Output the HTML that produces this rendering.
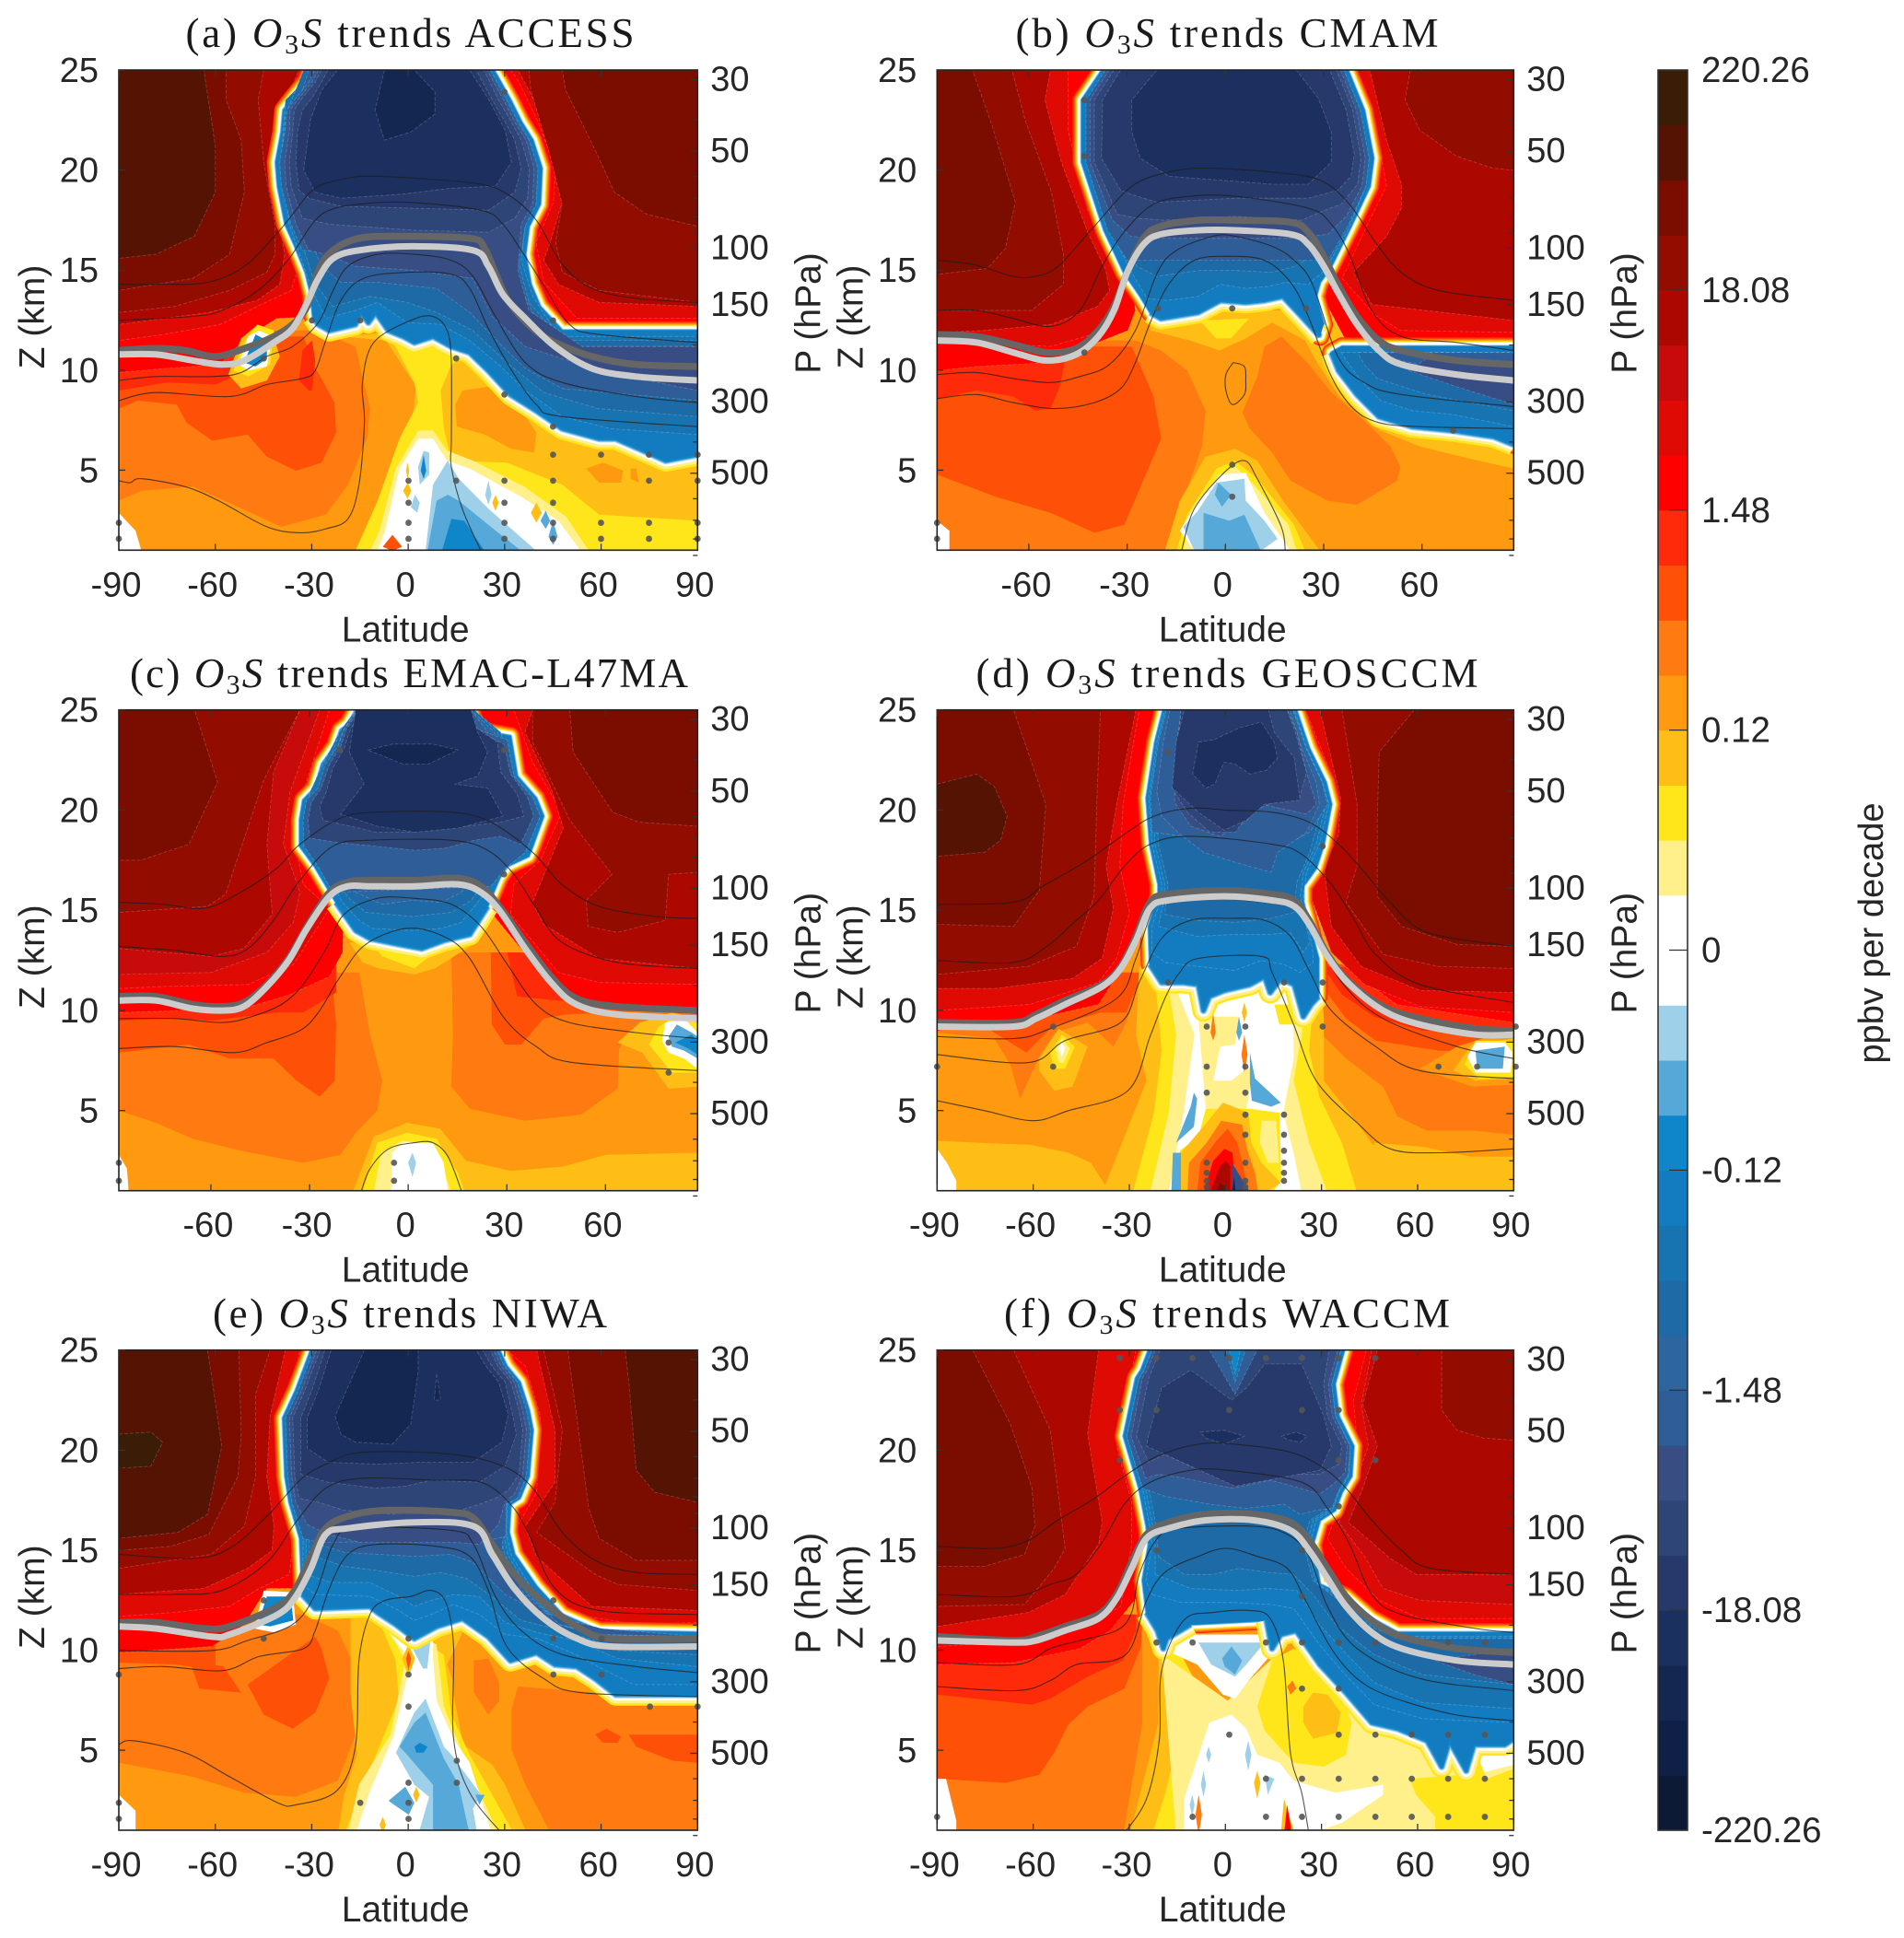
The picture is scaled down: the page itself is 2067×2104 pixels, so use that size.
<!DOCTYPE html>
<html lang="en"><head><meta charset="utf-8"><title>O3S trends</title>
<style>html,body{margin:0;padding:0;background:#fff}svg{display:block}
text{font-family:"Liberation Sans",sans-serif;fill:#262626}
.ttl{font-family:"Liberation Serif",serif;font-size:45px;text-anchor:middle;fill:#1a1a1a}</style></head>
<body>
<svg id="fig" xmlns="http://www.w3.org/2000/svg" width="2067" height="2104" viewBox="0 0 2067 2104">
<rect width="2067" height="2104" fill="#fff"/>
<text class="ttl" x="445" y="51" textLength="487">(a) <tspan font-style="italic">O</tspan><tspan font-size="30" dy="7">3</tspan><tspan font-style="italic" dy="-7">S</tspan> trends ACCESS</text>
<text class="ttl" x="1332" y="51" textLength="459">(b) <tspan font-style="italic">O</tspan><tspan font-size="30" dy="7">3</tspan><tspan font-style="italic" dy="-7">S</tspan> trends CMAM</text>
<text class="ttl" x="444" y="746" textLength="606">(c) <tspan font-style="italic">O</tspan><tspan font-size="30" dy="7">3</tspan><tspan font-style="italic" dy="-7">S</tspan> trends EMAC-L47MA</text>
<text class="ttl" x="1332" y="746" textLength="545">(d) <tspan font-style="italic">O</tspan><tspan font-size="30" dy="7">3</tspan><tspan font-style="italic" dy="-7">S</tspan> trends GEOSCCM</text>
<text class="ttl" x="445" y="1441" textLength="428">(e) <tspan font-style="italic">O</tspan><tspan font-size="30" dy="7">3</tspan><tspan font-style="italic" dy="-7">S</tspan> trends NIWA</text>
<text class="ttl" x="1332" y="1441" textLength="484">(f) <tspan font-style="italic">O</tspan><tspan font-size="30" dy="7">3</tspan><tspan font-style="italic" dy="-7">S</tspan> trends WACCM</text>
<text x="0" y="0" transform="translate(2044,1013) rotate(-90)" font-size="38" text-anchor="middle">ppbv per decade</text>
</svg>
<script>
/* ---------- colour scale ---------- */
const bandColors=["#0c1a36","#101f45","#142751","#1c305f","#26396a","#2e4577","#374d84","#2f5d97","#2c659f","#1d6aa6","#1874b0","#137cc0","#0f86c9","#55a8d8","#9fd0ea","#ffffff","#ffffff","#fff08c","#ffe61a","#ffbe16","#ff9a10","#ff7a10","#ff5008","#ff2a0a","#ff0000","#e00a05","#c70a0a","#ad0800","#930c00","#7a0c00","#551304","#3b1c07"];
const colorbarLabels=["220.26","18.08","1.48","0.12","0","-0.12","-1.48","-18.08","-220.26"];
const latTicksFull=[-90,-60,-30,0,30,60,90];
const latTicksTrim=[-60,-30,0,30,60];
const zTicks=[5,10,15,20,25];
const pLabels=[30,50,100,150,300,500];
const pMinor=[40,60,70,80,90,200,400,600,700,800,900];

/* ---------- panel (a) ACCESS : layers are [band,[lat,z,...]] ---------- */
const a_under=[
[21,[-90,3.5,-83,4,-67,4.2,-53,3.2,-39.5,2.2,-25.7,2.8,-18.8,4.3,-13,6.6,-12,8.1,-16.5,11.2,-28,12,-90,12]],
[22,[-90,8.1,-84,8.5,-72,8.3,-69,7.4,-61,6.5,-50,6.8,-44,5.7,-35,5,-27,5.4,-22.5,6.9,-23,8.4,-29.5,10.3,-32.6,11.7,-90,11.7]],
[23,[-90,9,-75,9.4,-60,9.3,-50,10,-40,11.5,-90,11.5]],
[23,[-33,11,-34,9.5,-31,9,-30,9,-29,10.5,-30,11.5]],
[19,[-21,11.7,-7,11.5,2.4,9.2,.7,7,-9.6,3.5,-15.4,1,90,1,90,6.2,25,11,2,12]],
[18,[-6,11.8,1.8,9.4,3,8.4,-2.8,6.6,-9.6,3.5,-16.5,1,90,1,90,2.5,59.2,2.8,47.8,4.3,30.5,5.4,13.3,5.5,11,7.1,10,9,13.3,10.3,19,10.8,1.8,11.5]],
[20,[16.8,9,24.8,9.2,34,8.3,39.7,6.9,39,5.9,31.7,6.1,23.7,6.8,15,7.2,14.5,8.3]],
[20,[55.2,5.1,60.4,5.4,66.7,5,66,4.4,59.2,4.4]],
[20,[69,5.1,70.7,5.1,71.6,4.4,69,4.6]],
[17,[3,7,-4,5.1,-9,2,-12,1,56,1,49,2.7,36,4.2,20,5.5,12,6,7.6,7]],
[15,[3,6.6,-2.8,5.1,-7.3,2,-9.6,1,53.5,1,46.6,2.5,35,3.7,19,5.1,12,5.5,7.6,6.6]],
[14,[12.2,5.5,7.6,4.3,5.3,1,39.7,1,24.8,3.1,15.6,4.6]],
[13,[12.2,3.8,8.7,3.5,5.9,1,35,1,24.8,2.3,15.6,3.5]],
[12,[13.3,2.6,10.4,1,23.6,1,17.3,2.5]],
[14,[4.7,6,3,5.2,3.5,4.3,6.4,4.8,6.4,5.9]],
[12,[4.7,5.8,3.8,5,4.7,4.6,5.5,5]],
[14,[2,3.8,.7,3.2,2.7,2.9,3.5,3.4]],
[19,[-1.7,4,-.3,4.4,.9,4,-.3,3.6]],
[19,[-.8,5,-.3,5.4,.2,5,-.3,4.6]],
[22,[-8,1.2,-5,1.8,-2,1.2,-5,1]],
[19,[38,2.9,39.7,3.4,41.4,2.9,39.7,2.4]],
[14,[23.8,3.8,24.8,4.5,25.8,3.8,24.8,3.3]],
[13,[41,2.5,42.6,3,44,2.5,42.6,2.1]],
[13,[43.5,1.7,44.9,2.5,46.3,1.7,44.9,1.3]],
[19,[26,3.4,27,3.8,28,3.4,27,3]],
[15,[-90,2.9,-84.8,2,-83,1,-90,1]]];
const a_stack=[
[24,[-90,25,-29,25,-29,12.7,-41,12.6,-51.5,11.5,-58.5,10.3,-76,10.1,-90,9.9]],
[25,[-90,25,-32,25,-36.5,17.3,-34,15.2,-36.5,14,-47,13.2,-58.5,12.3,-76,11.8,-90,11.5]],
[27,[-90,25,-34,25,-41,22.4,-42.7,20.4,-41,18.1,-38.5,15.8,-40,14.3,-47,13.5,-62,12.9,-76,12.6,-90,12.3]],
[28,[-90,25,-45,25,-46.7,23.5,-45,20.4,-41.5,17.3,-41.5,15.8,-44,14.9,-55.6,14,-72.7,13.2,-90,12.9]],
[29,[-90,25,-56.7,25,-56.7,23.5,-52,21.5,-51,18.9,-55.6,15.8,-67,14.6,-90,14]],
[30,[-90,25,-63.6,25,-60,21.2,-60,18.9,-66.5,16.7,-78.5,15.8,-90,15.6]],
[24,[24.8,25,90,25,90,12.1,46.6,12.1,24.8,17.3]],
[25,[31.7,25,90,25,90,12.6,52.4,12.6,42,14.4,39.6,16.4,45,18.4,45.7,20.1,40,22.5,34,24.5]],
[27,[34,25,90,25,90,13.2,59.2,13.4,46.6,14.3,42,15.5,44,16.4,47.7,18.4,47.8,20.1,40,23.2]],
[28,[37.4,25,90,25,90,13.4,59.2,14,47.8,14.9,45.7,16.4,47.7,18.3,44,20.7,38,24]],
[29,[47.8,25,90,25,90,17.2,74,17.8,64,18.9,58,21,48.8,24]]];
const a_cores=[[-30.3,25,-32,24.4,-36,23.6,-38.9,23,-39.5,21.9,-41.2,20.4,-40.6,19.2,-38.3,17.3,-35.5,16.3,-32,14.9,-30.3,13.8,-29.7,12.7,-28,12.3,-24.6,12,-16.5,12.3,-14.8,12.9,-12.5,12.4,-10.2,12.9,-6.2,12,-1.6,11.7,1.8,11.4,7.6,11.7,13.3,11.2,19,10.9,24.8,10,31.7,8.8,39.7,8,47.8,7.1,59.2,6.6,64.4,6.6,73,6,79.9,5.5,90,5.8,90,12,47.8,12,40.9,13.2,38,14.3,36.3,15.8,37.4,17.2,40.9,18.3,41.4,20.1,38.6,21.5,35.1,22.4,31.7,23.5,26.5,25]];
const a_fronts=[[-29.7,12.7,-28,12.3,-24.6,12,-16.5,12.3,-14.8,12.9,-12.5,12.4,-10.2,12.9,-6.2,12,-1.6,11.7,1.8,11.4,7.6,11.7,13.3,11.2,19,10.9,24.8,10,31.7,8.8,39.7,8,47.8,7.1,59.2,6.6,64.4,6.6,73,6,79.9,5.5,90,5.8]];
const a_nested=[
[10,[-38.3,23.5,-39.5,20.4,-37,17.3,-30,14,-25.7,12.6,-16.5,13,-9.6,13.4,-.5,12.4,10,12.3,19,11.5,28,10.3,36.3,9,47.8,7.7,62.7,7.1,90,6.8,90,11.7,46.6,11.7,38.6,13.7,35,15.5,36.3,17.3,39.7,18.6,39.7,20.2,35,21.9,28,24.1,24.8,25,-29,25]],
[9,[-32.6,25,-38.3,22.7,-39,20.4,-35,17.3,-29,14.3,-23.5,13.2,-12,13.7,-.5,13.4,8.7,12.9,20,12,30.5,10.4,42,8.9,59,8.1,90,7.7,90,11.5,47.8,11.5,37.4,13.4,34,15.5,35,17.3,38.5,18.6,37.4,20.4,30.5,23,24.8,25]],
[7,[-31,25,-36,22.4,-37,20.4,-32.6,17.3,-27,15.2,-21,14.4,-9.6,14.4,8.7,14.1,19,12.9,28,11.4,36.3,10.1,47.8,9.1,90,8.5,90,11.2,51,11.2,38.6,12.9,32,15,33,17.3,37.4,18.7,35,20.6,28,23.2,24,25]],
[7,[-29.2,25,-31,24.4,-35,23.6,-37.8,23,-38.4,21.9,-40,20.4,-39.5,19.2,-36.5,17.3,-33,16,30,15.6,35,15.8,36.2,17.2,39.6,18.3,40.2,20.1,37.5,21.5,34,22.4,30.5,23.5,25.4,25]],
[6,[-28,25,-30,24.4,-34,23.6,-36.8,23,-37,21.9,-38.5,20.4,-38,19.2,-35,17.3,-31,16,-25.7,15.8,-16.5,15.2,1.8,15,20,14.6,26,12.7,36.3,11.2,59,10,90,9,90,11.2,54,11.2,37.4,13,34,15,35,17.3,38.5,18.3,39,20.1,36.5,21.5,33,22.4,29.5,23.5,24.4,25]],
[5,[-27,25,-29,24.4,-33,23.6,-35.5,23,-36,21.9,-37,20.4,-36.5,19.2,-33,17.6,-24.5,17.3,1.8,17,24.8,16.9,33,17.6,37,18.6,37.5,20.1,35,21.5,32,22.4,28,23.5,23.4,25]],
[4,[-25,25,-27,24.4,-30,23.6,-33,23,-34.5,21.9,-35,20.4,-34,19,-31,18.6,-21,18.2,1.8,18.1,24.8,18,33,18.9,35,20.1,33,21.5,30,22.4,26,23.5,21,25]],
[3,[-22,25,-27,24,-30.5,22.5,-32.6,20,-29,18.9,-21,18.6,-2,18.8,13.3,19.1,27,19.2,32,20.4,30,22,25,23.5,19,25]],
[2,[-7.5,25,-10.4,23,-7.5,21.5,.7,21.9,8.2,22.8,8.2,23.9,1.8,25]]];
const a_over=[
[19,[-56,9.8,-52,9.1,-44,9.5,-40,10.7,-42.5,12,-47.5,12.2,-52,11.6]],
[18,[-54.4,10,-49.8,9.7,-43,10.3,-41.8,12,-47,12.3,-51,11.4]],
[15,[-52.7,10.3,-49.8,10,-44,10.2,-42.4,11.7,-46.4,12,-49.8,11.7]],
[12,[-51,10.4,-47.5,10.2,-44,10.6,-44,11.5,-47.5,11.8,-49.3,11.1]]];
const a_lines=[
[-90,14.3,-78.5,14.3,-62.5,14.4,-51,15.2,-40.6,16.9,-36,17.8,-29,19.1,-19,19.6,-12,19.7,1.8,19.6,22.5,19.3,31.7,18.7,39.7,17.5,47.8,15.3,57,14.1,70.7,13.6,90,13.4],
[-90,12.5,-67,12.7,-58,13,-46.7,14,-37.5,15.5,-30,17.3,-24.6,18,-15.4,18.3,-.5,18.4,22.5,18,29.3,17.3,35,16,41.8,14.3,50,12.3,59.2,11.8,90,11.4],
[-90,9.5,-78.5,9.7,-61,9.7,-52,9.9,-44,10.7,-36,11.2,-28,12.4,-23.4,14,-18.8,15.2,-9.6,15.8,1.8,15.8,13.3,15.5,20,14.7,27,12.7,36.3,10.4,47.8,9.4,70.7,8.7,90,8.4],
[-90,8.5,-78.5,8.9,-55.6,8.7,-44,9.3,-33,9.6,-29,10,-25.7,11.5,-21,13.5,-14,14.6,-.5,14.9,13.3,14.8,19,14.1,24.8,12.1,31.7,10.1,39.7,8.3,47.8,7.7,90,7.2],
[-90,4.5,-86.5,4.4,-83,4.6,-69.4,4.2,-59,3.5,-44,2.2,-33.7,1.9,-25.7,2.1,-18.8,2.6,-15.4,4.3,-13.7,7.4,-14.3,9.4,-10.8,11.4,.7,12.5,7.5,12.7,12,12,13.3,10.4,13.3,6.6,13.3,5.2,16.7,3.1,22.5,1]];
const a_thick=[-90,11,-78.5,11.1,-69.4,11,-60,10.7,-51,11.1,-41.8,11.7,-36,12.3,-31.5,13.2,-28,15,-23.4,16,-15.4,16.6,-2.8,16.7,19,16.6,23.6,16.1,28.2,14.4,31.7,13.3,38.6,12.1,45.5,11.4,57,10.7,70.7,10.3,90,10.2];
const a_light=[-90,10.8,-78.5,10.8,-67,10.5,-58,10.3,-51,10.5,-41.8,11.4,-36,12.1,-31.5,13.4,-28,14.6,-23.4,15.6,-15.4,16,1,16.2,20,16,24.8,15.2,29.3,13.8,36.3,12.6,45.5,11.2,57,10.1,70.7,9.7,90,9.5];
const a_dots=[0,4.5,0,3.4,0,2.4,0,1.6,14.8,4.5,14.8,10.6,29.8,8.8,44.9,7.2,29.8,4.5,29.8,3.4,29.8,2.4,29.8,1.6,44.9,5.8,59.8,5.8,74.7,5.8,44.9,4.5,74.7,4.5,44.9,3.4,44.9,2.4,44.9,1.6,59.8,2.4,59.8,1.6,74.7,2.4,74.7,1.6,90,5.8,90,4.5,90,2.4,90,1.6,-90,2.4,-90,1.6,-30,12.5,-15,12.5,-45,10.6,44.9,12.5,29.8,23.9];

/* ---------- panel (b) CMAM ---------- */
const b_under=[
[21,[-88,1,-17.3,1,-14,3.5,-8.3,6.2,-7.2,8,-12.8,10,-20.7,11,-28.5,11.5,-88,11.5]],
[21,[4,7.9,8.5,9.7,10.7,11.2,15.8,11.7,24.2,10.3,31,8.9,41,7.5,49,6.2,52,5.2,51,4.5,38.8,3.3,29.8,3.5,18.6,4.5,13,5.9,6.2,7.1]],
[22,[-88,4.8,-71,3.7,-54.3,2.9,-41,1.9,-31.9,2.3,-20.7,6.6,-23,8.7,-29.6,11.2,-88,11.2]],
[23,[-88,8.6,-76.8,9,-65.6,8.7,-59,8,-54.3,8.1,-51.5,9.2,-50,10.4,-88,10.4]],
[19,[-24,12,-12,11.5,-3,11,5,11.6,13,12.4,23,11.5,27,10.3,34,8.6,46,7,58,6.2,73,5.6,88,5.1,88,8,30,13,-24,13]],
[18,[-9,12.5,-4,11.6,.5,11.6,6,12.6]],
[19,[-19.6,1,-15,3.5,-7.2,5.7,1.8,6.1,8.5,5.5,16.3,3.5,27.6,1]],
[18,[-16,1,-12.8,2.8,-3.9,5.1,1.8,5.5,8.5,4.6,19.7,2.3,23,1]],
[17,[-14,1,-11,2.8,-3,4.8,1.8,5.2,7.5,4.3,18,2.3,20.5,1]],
[15,[-15,2,-9.5,3.5,-2.7,4.8,5,4.9,10.7,2.9,18.6,1,-10.6,1]],
[14,[-14,2.2,-9.5,3,-3.9,4.4,4.6,4.6,5,3.5,10.7,2.5,14.7,1.6,9.6,1,-10.6,1]],
[13,[-7.8,2.9,0,2.5,4.6,2.8,9.6,1,-7.8,1]],
[13,[-3.3,4.4,-4.4,3.8,-2.2,3.2,.6,3.8]],
[15,[-88,2.5,-85,2,-85,1,-88,1]]];
const b_stack=[
[24,[-88,25,-38.6,25,-28.5,13,-30.8,12,-43,11.2,-54.3,10.4,-76.8,10.2,-88,10]],
[25,[-88,25,-49,25,-49,22,-43,18,-34,15.2,-31,14.3,-37.5,12,-54.3,11.2,-88,11.5]],
[27,[-88,25,-54.3,25,-56,23.5,-51,20.4,-43,16.9,-37.5,15,-36.4,14,-40,13.2,-54,12.3,-74.5,12,-88,11.9]],
[28,[-88,25,-66,25,-62,22.5,-54,18.9,-50.4,15.8,-50.4,14.3,-60,13,-88,13]],
[29,[-88,25,-78,25,-72,22.2,-65,18.4,-68,16.1,-73.4,15.1,-88,14.8]],
[24,[35.4,25,88,25,88,11.5,35.4,11.5,26.4,14.3]],
[25,[38.8,25,88,25,88,11.9,52,12,44,12.8,34.3,14.6,42,17.3,47.8,19.2,45.5,21.3,41,23.5]],
[27,[42.7,25,88,25,88,12.5,43.3,13.3,37.7,14.9,47.8,16.7,52.3,18.1,52.3,19.3,47.8,21.5]],
[28,[55,25,53.4,23.5,57.9,22,69,20.7,80,20.1,88,20,88,25]]];
const b_cores=[
[-38.6,25,-44.8,23.5,-44.8,20.4,-38,17,-32,14.9,-27.4,13.8,-24,12.9,-20.7,12.6,-9.5,12.9,-2.7,13.5,5,13.4,10.7,13.5,16.3,13.7,22,12.7,27.6,11.7,28.7,12.3,26.4,13.7,27.6,14.4,31,15.2,37,17.2,42.7,19.2,43.8,20.6,41,23,36,25],
[31,10.9,34.3,11.2,88,11.2,88,6.3,80.3,6.7,68,7,55.6,7.2,45.5,7.7,38.8,8.8,33.2,10]];
const b_fronts=[
[-24,12.9,-20.7,12.6,-9.5,12.9,-2.7,13.5,5,13.4,10.7,13.5,16.3,13.7,22,12.7,27.6,11.7],
[31,10.9,33.2,10,38.8,8.8,45.5,7.7,55.6,7.2,68,7,80.3,6.7,88,6.3]];
const b_nested=[
[10,[-42,23.5,-42,20.4,-36,17,-30,15,-25,13.6,-19,13.5,-9.5,13.7,-2.7,14.3,5,14.1,12,14.2,17,14.4,24,14.3,29,15,36,17,41,19,42,20.6,39,23,34.8,25,-37,25]],
[9,[-40,24,-41,20.4,-34,17,-28,15.2,-22,14.7,-9,15,1.8,15,13,14.9,20,15.2,26,15.8,34,17.2,39,19,40.5,20.6,37,23,33.5,25,-36,25]],
[8,[-36,25,-40,21.5,-39,20,-33,17,-27,15.8,-18,15.6,1.8,15.8,16,15.6,24,16.4,32,17.7,37,19.3,38.8,20.5,36,23,32.5,25]],
[7,[-37.6,25,-43.5,23.5,-43.5,20.4,-37,17,-31,15.5,30,15.5,36,17.2,41.5,19.2,42.5,20.6,39.8,23,34.8,25]],
[6,[-36.5,25,-42.3,23.5,-42.3,20.4,-35.5,17.5,-30,16.7,-23,16.6,1.8,16.6,19,16.6,30,16.8,35.5,17.7,40.3,19.2,41.3,20.6,38.6,23,33.8,25]],
[5,[-35,25,-41,23.5,-41,20.4,-34,17.8,-28,17.6,-20,17.5,1.8,17.7,22,17.5,29,18,34,18.3,39,19.3,40,20.6,37.5,23,32.6,25]],
[4,[-33,25,-38.5,23.5,-38.8,20.6,-33,19,-30,18.8,-22,18.4,1.8,18.6,24,18.6,33,19,37,19.7,38,20.8,35.5,23,30.5,25]],
[3,[-22,25,-29.6,23.5,-29.6,21.9,-27,20.6,-18.4,19.7,13,19.3,24,19.3,31,20.4,31,21.9,27,23.6,20.3,25]],
[10,[34,10.9,88,10.9,88,7.2,68,7.8,55.6,8,46,8.5,40,9.5,36,10.4]],
[9,[39,10.9,88,10.9,88,8,60,8.8,45,9.6,41,10.3]],
[7,[45.5,10.9,88,10.9,88,9.1,72,9.8,52,10.5]],
[6,[54.5,10,69,9.2,88,8.3,88,10.3,60,10.6]]];
const b_over=[];
const b_lines=[
[-88,15.5,-78,15.3,-65.6,14.7,-59,14.7,-52,15.2,-41,17.2,-29.6,19.2,-18.4,19.9,-7,20.1,13,19.9,27.6,19.5,36.5,18.3,44.4,16.4,52.3,14.9,63.5,14,88,13.5],
[-88,13,-76.8,13,-65.6,12.6,-54.3,12.2,-45.4,13,-38.6,15.2,-32,16.9,-23,18.3,-11.7,18.7,1.8,18.7,24,18.1,31,17.3,36.5,15.8,43.3,13,52.3,11.7,69,11.4,88,11],
[-88,9.8,-76.8,9.9,-65.6,9.6,-54.3,9.4,-45.4,9.7,-36.4,10.3,-28.5,12,-21.8,14.9,-16,16,-5,16.7,1.8,16.7,13,16.2,19.7,15.5,25.3,14.3,33,10.7,41,9.4,52.3,8.8,88,8.2],
[-88,8.6,-76.8,8.8,-65.6,8.4,-53,8.1,-41,8.4,-33,9.1,-28.5,10.4,-24,12.4,-18.4,14.3,-10.6,15.5,-.5,15.7,10.7,15.5,18.6,14.4,24,12.7,31,9.7,37.7,8.1,45.5,7.4,57.9,7.2,88,7.1],
[-14.5,1,-10.6,3.1,-1.6,4.9,4.6,5.5,8.5,4.6,15.8,2.2,17,1],
[1.2,10.4,4.6,10.2,5,9.5,4.6,8.8,1,8.3,-1,9,-1,9.8,1.2,10.4]];
const b_thick=[-88,11.8,-76.8,11.7,-65.6,11.3,-55.5,10.9,-46.5,11.1,-39.8,12,-35,13.2,-31,14.9,-26,16.6,-20.7,17.2,-9.5,17.5,1.8,17.5,18.6,17.4,24,16.9,28.7,15.7,33,14.3,38.8,12.7,45.5,11.5,52.3,11,69,10.5,88,10.3];
const b_light=[-88,11.5,-76.8,11.4,-65.6,10.9,-55.5,10.5,-46.5,10.8,-39.8,11.7,-35,13,-31,14.9,-26,16.3,-20.7,16.8,-9.5,17,1.8,17,18.6,16.8,24,16.3,28.7,15.2,33,13.9,38.8,12.3,45.5,11,52.3,10.3,69,9.8,88,9.5];
const b_dots=[-44,23.5,-44,20.7,-21.6,13.1,.9,13.1,23.3,13.1,-44,10.9,68,7,.9,5.3,.9,3.7,-88,2.4,-88,1.6];

/* ---------- panel (c) EMAC-L47MA ---------- */
const c_under=[
[21,[-88,5.1,-76.8,4.5,-65.6,3.7,-51,3.1,-32,2.5,-20.7,2.9,-16,4,-9.5,5.1,-8,6.6,-11.7,8.9,-15,12,-88,12]],
[21,[13.5,8.9,13,6.3,18.6,5.2,35.4,4.6,52.3,4.9,63.5,6.2,64,8.2,67,9.1,88,9.7,88,13,13,13]],
[22,[-88,8,-66.7,8.4,-54.3,7.7,-41,7.7,-34,6.6,-27,5.8,-22.4,6.6,-22,9.4,-24,13,-88,13]],
[22,[25.3,9.4,29.3,8.4,34.3,8.4,41,9.7,48,9.9,60,10,88,10.2,88,13,25,13]],
[23,[-88,9.6,-70,9.7,-60,9.6,-40,10,-32,10,-22,11,-22,12.9,-88,12.9]],
[23,[30,13,33,10.8,45,10.6,60,10.5,88,10.3,88,13]],
[19,[-17,1,-10.6,3.8,-.5,4.5,9.6,4.2,17.5,2.6,31,2.1,46.6,2.3,60,2.9,88,3,88,1]],
[18,[-14,1,-9.5,3.5,-.5,4,8.5,3.7,15,2,17,1]],
[17,[-10.6,1,-8.3,3,-2,3.6,7,3.4,11,2,13,1]],
[15,[-5,3,-1.6,3.5,7.4,3.5,10.7,2.5,12,1,-5.3,1]],
[14,[1.2,3,-.1,2.5,1.2,1.8,2.3,2.5]],
[19,[-18,13.5,-14,12.5,-9,12.2,1.8,11.9,8,12.2,18.6,13.3]],
[18,[-12,13.6,-8,12.8,1.8,12.2,7,12.9,14,13.6]],
[15,[-88,2.9,-85.5,2.2,-85,1,-88,1]]];
const c_stack=[
[24,[-88,25,-18,25,-20,13,-24,11.8,-36,10.9,-50,10.2,-88,10]],
[25,[-88,25,-24,25,-32,21,-35,18.9,-32,16.4,-24,15.2,-27.4,14.3,-35,12.4,-48.7,11.4,-74.5,11.3,-88,11.2]],
[26,[-88,25,-27,25,-36,21,-38,18.4,-33,16,-35,14.5,-43,13,-60,12,-88,11.9]],
[27,[-88,25,-33,25,-41,22,-43,18.4,-41.4,14.9,-50,13.2,-60,12.8,-88,13.2]],
[28,[-88,25,-33,25,-44,21.6,-55.6,15.9,-61,15.3,-88,15]],
[29,[-88,25,-65,25,-58,21.5,-66.7,18.4,-81.3,17.6,-88,17.6]],
[24,[19.7,25,88,25,88,9.9,46.6,10.7,24,15.2]],
[25,[32,25,88,25,88,11.4,57.9,11.5,45.5,12,31,14.9,32,16.4,40,17.6,46.6,20,37.7,22.5]],
[27,[37.7,25,88,25,88,12.2,57.9,12.7,41,14.4,37.7,15.5,47,19.2,43.3,21.2,35.4,24]],
[28,[37.7,25,88,25,88,17,79,16.9,78,14.6,63.5,14,54.5,14.3,54,15.6,61.8,16.9,49,19.6,37.7,23.5]],
[29,[49,25,88,25,88,19.3,70,19.5,62,20,50,23]]];
const c_cores=[[-16,25,-18.4,24.4,-20.7,24.1,-22.4,23.3,-26.3,22.4,-28.5,21.2,-32,20.6,-33,19.6,-33,18.3,-28.5,17.3,-22,15.5,-16,14.1,-11.7,13.7,-2.7,13.4,4,13.2,10.7,13.6,18.6,13.9,24,15.3,27.6,16.7,30,17.3,36.5,17.8,37.7,18.3,41,19.8,38.8,20.7,33,21.8,31,23.8,20.8,24.1,19,25]];
const c_fronts=[[-22,15.5,-16,14.1,-11.7,13.7,-2.7,13.4,4,13.2,10.7,13.6,18.6,13.9,24,15.3]];
const c_nested=[
[10,[-30,21,-31,19,-31,18.2,-26,17.2,-20,15.5,-15,14.6,-11,14.2,1,14.1,10,14.2,16,14.5,22,15.7,27,17.3,35,18.3,38,19.8,36,20.7,31,22,28,24,20,25,-16,25,-21,24,-26,22.4]],
[9,[-28,21,-29,19,-28,18,-24,17,-18,15.7,-13,15,1,14.8,13,15,19,15.6,25,17,33,18.6,36,19.8,33,21,29,22.4,27,24,20,25,-16,25,-21,24,-24,22.5]],
[8,[-26,21.5,-27,19,-23,17.2,-16,16,-8,15.4,1,15.6,10,15.5,16,16,22,17.3,31,18.9,34,19.9,31,21,26,24,19,25,-16,25,-20,24,-23,22.5]],
[7,[-24,21.5,-24,19.2,-17,17.8,-5,17.4,9,17.4,16,17.5,28,19.3,31,20,29,21,24,24,19,25,-16,25,-19,24,-22,22.5]],
[7,[-15.3,25,-19.7,24.1,-21.4,23.3,-25.3,22.4,-27.5,21.2,-31,20.6,-32,19.6,-31.8,18.3,-27.5,17.3,-23,16,25,16.3,29.5,17.2,35.5,18,40,19.8,37.8,20.7,32,21.8,30,23.6,20,24.2,18,25]],
[5,[-15,25,-19,24.1,-20.5,23.3,-24,22.4,-26.5,21.2,-29.5,20.5,-30.5,19.6,-30,18.7,-22,18.5,-10,18.3,2,18.1,11,18.2,20,18.6,28,18.8,34,18.4,38,19.8,36,20.8,31,21.9,29,23.4,19,24.2,17.5,25]],
[4,[-14.5,25,-18,24,-19.5,23.2,-23,22.2,-25,21,-27,20.3,-26,19.6,-15,19.2,-10,19,1,19,13,19.2,28,19.5,35,19.8,33,20.9,28,22,27,23.5,18,24.5,17,25]],
[3,[-18,23,-13.5,21.4,-20.7,19.9,-9.5,19.3,1.8,19,15,19.2,28.7,19.8,24,21.2,14,21.4,21,21.8,24,23,21,24,19,25,-16,25]],
[2,[-12.3,23.1,-5,23.4,7.4,23.4,15,23.1,6,22.4,-1.6,22.4]]];
const c_over=[
[19,[63.5,8.5,70.3,9.5,80,10,88,9.7,88,6.3,79,6.2,71,8]],
[18,[73,8.4,76,9.3,80,9.7,88,9.5,88,7,80,7]],
[15,[77,8.6,78,9.5,83.7,9.7,88,9,88,7.2,83.7,7.7,79,8]],
[13,[79,8.8,81.5,9.4,86,9,88,8.8,88,7.7,83.7,8.1,80,8.3]],
[12,[81,8.5,86,8.9,88,8.6,88,7.9,85,8.2]]];
const c_lines=[
[-88,15.5,-74.5,15.4,-62,15.2,-51,16,-40,17.2,-33,18.4,-20.7,19.7,-9.5,20,13,20,25,19.5,37.7,18,46.6,16.4,57.9,15.3,75,14.8,88,14.7],
[-88,13.3,-71,13.1,-56.6,12.8,-48.7,13.2,-41,14.6,-33,16.6,-23,18.3,-11.7,18.6,13,18.6,24,18.1,32,16.9,38.8,15.2,46.6,13.5,63.5,12.5,88,12.2],
[-88,9.7,-71,9.7,-56.6,9.5,-47.6,9.8,-38.6,10.4,-32,11.4,-25,13.2,-19.6,14.9,-9.5,15.7,1.8,15.7,13,15.4,22,14.3,30,12.4,38.8,10.4,48.9,9.5,69,9,88,8.7],
[-88,8.2,-71,8.3,-53,8,-43,8.5,-33,9.1,-27.4,10,-20.7,11.8,-13,13.4,-.5,14.2,10.7,13.8,18.6,12.7,28.7,9.8,38.8,8.3,50,7.5,88,7.1],
[-14.5,1,-11.7,2.2,-6,3.2,1.8,3.5,7.4,3.5,12,2.8,16.3,1]];
const c_thick=[-88,10.8,-76.8,10.8,-65.6,10.4,-56.6,10.3,-50,10.5,-43,11.4,-36.4,12.7,-30.8,14.3,-24,16,-18.4,16.5,-11.7,16.6,1.8,16.6,15,16.7,22,16.3,27.6,15.3,35.4,13.5,43.3,11.8,51,10.7,63.5,10.3,88,10.1];
const c_light=[-88,10.6,-76.8,10.6,-65.6,10.2,-56.6,10.1,-50,10.3,-43,11.3,-36.4,12.6,-30.8,14.2,-24,15.8,-18.4,16.3,-11.7,16.3,1.8,16.3,15,16.4,22,16,27.6,15.1,35.4,13.2,43.3,11.5,51,10.4,63.5,9.9,88,9.7];
const c_dots=[-21,23.1,29,23.1,29,16.9,-4.4,2.5,-4.4,1.6,79,8.5,79,7,-88,2.5,-88,1.6];

/* ---------- panel (d) GEOSCCM ---------- */
const d_under=[
[19,[-90,1,-37,1,-43,2.5,-50,3,-62,3.4,-78,3.5,-90,3.6]],
[19,[40,1,90,1,90,2.8,75,2.8,60,3.3,45,3.5]],
[21,[-90,9,-73,8.7,-68,7.4,-65,5.7,-59,7.8,-54,9,-44,9.5,-36,8.3,-32,9.5,-27,12,-90,12]],
[22,[-90,9.3,-75,9.2,-68,8.5,-63,8,-55,9.3,-40,10,-32,10,-27,12,-90,12]],
[19,[-59,7.7,-53,9.2,-44,8.3,-48.7,6.3,-54.4,6.1,-59,7.1]],
[18,[-55.6,8,-52,8.9,-48,8.3,-51,7.2,-54.4,7.2]],
[17,[-54,8.2,-52,8.7,-49.5,8.2,-51.5,7.5,-53,7.5]],
[15,[-53,8.2,-52,8.5,-51,8.2,-52,7.8]],
[21,[24,12,90,10,90,3.9,76.5,4.1,61.5,4.1,52.3,4.8,47.8,6.3,36.3,7.7,29.4,8.8,24.8,9.7]],
[22,[24,12.5,90,12,90,8,65,8.1,45.5,8.6,36.3,9.7,29.4,11.2]],
[23,[29,12.3,35,10.9,45,9.8,60,9.1,90,8.9,90,12]],
[19,[-28,12.3,28.2,12.3,29.4,9.7,29.4,6.6,39.7,4.5,45.5,3.2,54.6,1,-39.5,1,-25.7,6.6,-29,8.9]],
[18,[-23.4,12.3,27,12.3,24.8,8.1,28,5.8,35,3.5,39.7,1,-30,1,-23.4,5,-21,8.1]],
[17,[-18.8,11.2,23.7,11.2,22.5,8.9,20,6.6,24.8,3.5,30.5,1,-24.6,1,-18.8,5,-16.5,8.9]],
[15,[-16.5,11.2,19,11.2,20,9.7,20,7.7,16.8,5,20,3,22.5,1,-18.8,1,-14.2,5,-10.8,8.9]],
[17,[-9.6,9.8,3,9.8,1.8,8.4,-2.8,8.3,-5,6.6,.7,6.6,5.3,7.2,7.6,7.2,5.3,5.2,-7.3,5.2]],
[18,[14,10.4,20,10.4,23,9.4,15.6,9.4]],
[18,[-15.4,1,-15.4,3.1,-9.6,3.8,-7.3,5.2,6.4,5.2,15.6,5,16.2,1.6,13.3,1]],
[17,[10,4.6,14.5,4.6,15.5,2.5,12,2.5,9.5,3.5]],
[19,[-15,1,-15,3,-7,4.5,-2,5.5,6,5,6.8,3.5,10,2.5,16,1.5,11,1]],
[21,[-13,1,-12.5,2.5,-7,3.5,-2.5,4.6,4,4.4,5.5,3.2,8,2,9,1]],
[22,[-10,1,-9,2.5,-4,3.6,-.5,4.2,2.5,3.5,4,2.5,6,1]],
[24,[-8,1,-5,2.6,-1.5,3.2,1,3,1.5,2,2.5,1]],
[27,[-6,1,-3,2.3,-1,2.6,.3,2.3,.3,1]],
[29,[-4,1,-3,1.5,-1,1.3,-1,1]],
[6,[.7,2.5,2,2.2,6.5,1,.7,1]],
[2,[2,1,1.5,1.8,.9,1]],
[13,[-17.5,3,-15,3,-15,1,-18,1]],
[13,[-11,4.3,-10,5.7,-11,6,-12,5.3,-16.5,3.5]],
[13,[6.4,8,8,6.7,16,5.5,13,5.3,7,5.6,6.4,6.5]],
[21,[-5,10,-4.2,9,-5,8.6,-5.8,9]],
[21,[4.7,8.9,5.7,7.9,4.7,7,3.8,7.9]],
[19,[4.7,10.5,5.5,10,4.7,9.5,3.9,10]],
[13,[3,9.8,4,9,3,8.6,2.2,9]],
[15,[-90,3.2,-87.7,2.5,-84.8,1.6,-84.8,1,-90,1]]];
const d_stack=[
[24,[-90,25,-21,25,-23.4,15.8,-31.4,12.7,-40.6,10.4,-60,9.7,-90,9.1]],
[25,[-90,25,-28,25,-33,20.4,-34,17.3,-31,15,-35,12.7,-40.6,11.5,-62,10.4,-90,10.1]],
[27,[-90,25,-29,25,-35,20.4,-38.3,17.3,-36,15.2,-39.5,12.7,-48.7,11.7,-72.8,11.2,-90,11.2]],
[28,[-90,25,-40,25,-41,21.2,-42,15.8,-47.5,13.3,-62.5,12.3,-90,11.9]],
[29,[-90,25,-67,25,-57,20.4,-59,16.1,-67,14.3,-90,14.4]],
[30,[-90,21.4,-78.5,21.9,-73,21.3,-69,19.8,-71,18.6,-76,18,-90,17.8]],
[24,[21.4,25,90,25,90,9.5,52,10.4,36,12.3,28,15]],
[25,[23.7,25,31.7,21.9,32.3,20.4,28,17.6,24.8,16,31.7,13,42,11.4,59.2,10.3,90,10,90,25]],
[27,[28.2,25,34.6,20.7,34,18.9,29.4,17.3,31.7,14.3,41,12.3,59.2,11.1,90,11,90,25]],
[28,[35,25,39.7,20.4,39.7,17.3,36.3,15.5,47.8,12.9,65,12.3,90,12.2,90,25]],
[29,[57.5,25,46.6,23,46,19.6,46,15.8,53.5,14.3,70.7,13.4,90,13.3,90,25]]];
const d_cores=[[-20.5,25,-23,23.5,-25.7,20.7,-24.6,18.4,-22,16.4,-22,15.8,-25,14.3,-24.6,12.4,-21,11.5,-14.2,11.5,-9.6,11.4,-8,10.1,-6.2,10.8,-1.6,11.1,6.4,11.4,11,11.8,12.7,11,16,11.7,20.2,11.4,23,9.8,25.4,10.4,27.7,10.8,27.7,12.7,23,15.5,23,16.3,27,17.2,29.4,18.4,31.7,20.4,30,21.5,24.8,23.2,20.8,25]];
const d_fronts=[[-24.6,12.4,-21,11.5,-14.2,11.5,-9.6,11.4,-8,10.1,-6.2,10.8,-1.6,11.1,6.4,11.4,11,11.8,12.7,11,16,11.7,20.2,11.4,23,9.8,25.4,10.4,27.7,10.8]];
const d_nested=[
[11,[-24,13,-20,12.5,-10,12.3,1.8,12.1,10,12.6,17,12.4,22,12,26,12.5,26,13,23,15.8,24,17,28,18.4,31,20.4,29,21.5,24,23.2,20.3,25,-20,25,-22.5,23.5,-25,20.7,-24,18.4,-21,16.4,-21,15.8,-24,14.3]],
[10,[-22,14.3,-10,13.8,1.8,13.9,13,13.9,19,14,23,13,25,13.5,22,15.8,23,17,27,18.4,30,20.4,28,21.5,23,23.2,20,25,-19,25,-21,23.5,-24,20.7,-23,18.4,-20,16.4,-20,15.8]],
[9,[-20,14.9,-10,14.6,1.8,14.5,13,14.7,20,15,21,16.5,25,18,29,20.4,27,21.5,22,23.2,19,25,-18,25,-19.5,23.5,-23,20.7,-22,18.4,-19,16.4]],
[8,[-19.5,25,-22,23.5,-24.5,20.7,-24,19,-14,18.8,1.8,17.8,13,18,25,19,30.5,20.4,28.8,21.5,23.8,23.2,19.8,25]],
[7,[-18.5,25,-20.5,23.5,-22.5,21,-21,19.8,-16,19,-8,18,1.8,17.5,13,17,15,18,24,19,28,20.4,27,21.5,22.5,23.2,18.8,25]],
[6,[-15,25,-17,22.5,-17,20.5,-12,19.3,-3,18.8,5,19.5,10,20.4,24,19.9,27,20.4,24,22,21,24,18,25]],
[5,[-15,25,-16.5,22.5,-17,21,-13,20,-6,19,2,19,6,20,14,20.5,22,20.8,24,22,20.5,24,18,25]],
[4,[-16.5,23.5,-17.7,21.2,-9.6,20,-1.6,19.1,5.3,19.6,11,20.4,22,20.6,20.2,22.7,14,24,12.2,25,-14,25]],
[3,[-9.6,23.5,-5,23.6,3,24.2,9.9,24.5,13.9,23.5,15,22.7,11.6,22.1,6.4,21.9,1.8,22.4,-1.6,22.5,-4.5,21.4,-7.3,21.2,-11.4,21.9]]];
const d_over=[
[20,[59.2,7.2,70.7,8.3,84.5,9,90,8.8,90,6.4,75.4,6.3]],
[19,[69.6,7.1,75.3,8.4,90,8.7,90,6.7,76.5,6.6]],
[18,[73,7.4,76.5,8.6,88,8.6,90,8.1,90,6.8,77.6,6.7]],
[15,[74,7.8,76.5,8.5,85.6,8.5,88,8,87.4,7,76.5,7]],
[13,[76.5,8.1,85.6,8.3,85,7.2,77,7.2]]];
const d_lines=[
[-90,15.4,-67,15.5,-58,16.3,-44,17.6,-32.6,18.9,-23.4,19.8,-12,20.2,-.5,20.1,13.3,20,24.8,19.5,34,18.4,42,17,50,15.5,61.5,14,90,13.3],
[-90,12.6,-67,12.5,-56.7,13.3,-47.5,14.6,-40.6,15.6,-32.6,17.3,-24.6,18.4,-12,18.8,13.3,18.4,22.5,17.9,31.7,16.4,38.6,14.7,45.5,12.9,59.2,11.4,90,10.5],
[-90,8.8,-67,8.7,-55.6,9.2,-35,10.7,-29,12.7,-23.4,15.2,-16.5,15.8,19,15.3,24.8,14.3,35,11.5,47.8,9.7,70.7,8.3,90,7.7],
[-90,7.9,-62.4,7.5,-51,8.6,-33.7,9.5,-28,11.5,-21,13.7,-12,14.6,-.5,14.7,11,14.6,19,13.8,24.8,12.1,31.7,10.1,45.5,8.3,59.2,7.1,90,6.7],
[-90,5.6,-76,5.1,-61,4.6,-50,5.1,-31.5,6.1,-24.6,8.8,-20,10.7,-15.4,12,-9.6,12.7,10,12.8,13.3,12,20,9.4,27,6.6,39.7,4.5,50,3.2,65,3,90,3.2]];
const d_thick=[-90,9.5,-67,9.5,-60,9.9,-51,10.6,-39.5,11.4,-33.7,12.3,-29,13.8,-24.6,15.5,-19,15.9,-1.6,16.1,13.3,15.9,20.2,15.6,24.8,14.6,30.5,12.9,37.4,11.5,47.8,10.3,59.2,9.7,76.5,9.2,90,9.1];
const d_light=[-90,9.3,-67,9.3,-60,9.7,-51,10.4,-39.5,11.3,-33.7,12.2,-29,13.6,-24.6,15.2,-19,15.6,-1.6,15.8,13.3,15.6,20.2,15.3,24.8,14.4,30.5,12.8,37.4,11.4,47.8,10.1,59.2,9.4,76.5,8.9,90,8.9];
const d_dots=[-19,23,29,18.3,-54.7,9.3,-54.7,7.3,-7,9.3,5,9.3,29,9.3,-19,11.5,17,11.5,29,11.5,-7,7.3,5,7.3,-7,6,5,6,5,4.9,17,4.9,5,3.9,17,3.9,17,3.1,17,2.5,17,2,17,1.6,-7,2.5,5,2.5,-7,2,-7,1.6,5,1.6,-7,1.3,5,1.3,65,7.3,77,7.3,89,7.3,-90,7.3,89,9.3];

/* ---------- panel (e) NIWA ---------- */
const e_under=[
[21,[-90,4.6,-67,3.9,-51,3.1,-35,2.9,-22,3.7,-15,6.6,-15,8.8,-22,11.2,-32.6,12,-90,12]],
[22,[-50,8.5,-45,7,-36,6.3,-29,7.1,-24.6,8.8,-27,10.3,-29,10.9,-39.5,9.7]],
[22,[-68,9.7,-65,8.3,-52,8.1,-57.5,9.4]],
[22,[-90,9.6,-72,9.5,-60,9.2,-60,11,-90,11]],
[21,[31.7,7.1,34,8.4,90,7.7,90,1,44.4,1,36.3,3.5,31.7,5.4]],
[22,[58,6,61.5,6.3,66,5.9,65,5.6,60.4,5.6]],
[22,[68.4,6,90,6,90,4.6,82,4.7,70.7,5.4]],
[19,[-18,12,-18,8,-16,5,-20,3,-22,1,37,1,30,3.5,20,6,12,9.5,18,11.5]],
[20,[14,10.3,32,10,32,5,26,4.5,17,5.5,14,8]],
[21,[20.3,9.7,24.8,9.8,28.2,8.6,28.2,7.7,24.8,7,20.3,8.1]],
[18,[-10,12,-4,9.7,-3,7.8,-9.6,5.2,-20,1,33,1,19,5,13.3,7,11,10]],
[17,[-9,12,-1,9.7,-5.6,6,-15.4,3.5,-19,1,28,1,17,5,11,7.4,8.7,10.5]],
[15,[-9.6,11.8,.7,9.7,-4.5,6,-12,3.2,-16.5,1,26,1,19,4.6,13.9,5.8,8.7,7.7,7.6,9.8,7.6,10.7]],
[14,[1.8,7.1,5.3,7.8,11,5.4,13.3,5,22.5,3,20,2.3,21.4,1,3,1,6.4,2.9,1.8,3.5,-3.9,5.1]],
[13,[1.8,6.6,5.3,7.1,11,4.8,15.6,3.5,19,1,7.6,1,7.6,3.5,-.5,5,-2.8,5.4]],
[12,[1.8,5.4,3.5,5.6,5.9,5.4,4.7,5.1,2.4,5.1]],
[13,[-6.2,2.7,-1,3.4,1.8,2.6,.1,2,-4.5,2.5]],
[13,[20.8,3,23.7,3,22,2.5]],
[19,[-2,9.8,0,10.5,2,9.8,0,8.9]],
[22,[-.8,9.8,0,10.2,.8,9.8,0,9.2]],
[19,[1.4,3,2.4,3.4,3.4,3,2.4,2.6]],
[19,[-9,1.5,-8,1.9,-7,1.5,-8,1.1]],
[14,[-1,11,7,11,5.8,9.3,4.5,9.3]],
[15,[-90,3,-84.8,2.2,-84.8,1,-90,1]]];
const e_stack=[
[24,[-90,25,-31.5,25,-32.6,15.8,-36,13.3,-44,13.3,-51,11.5,-61,10.4,-90,10.1]],
[25,[-90,25,-33.7,25,-38.3,21.9,-39.5,19.6,-36,15.5,-37,14,-46.4,13.3,-55.6,12.4,-73,12.1,-90,11.9]],
[27,[-90,25,-38.3,25,-43,21.9,-44,18.9,-41.8,16.4,-42.4,15.2,-50,14.3,-63.6,13.3,-90,13]],
[28,[-90,25,-43,25,-47.5,23,-47.5,18.9,-51,16.4,-61.3,15,-90,14.3]],
[29,[-52.7,25,-52,21,-53,18.9,-62,16,-74,15.4,-90,15.2,-90,25]],
[30,[-62.4,25,-58,20.4,-62.4,17,-71.6,16.1,-90,15.8,-90,25]],
[31,[-90,21,-80,21.1,-76.4,20.6,-80,19.4,-90,19.3]],
[24,[28.2,25,90,25,90,11.3,59.2,11.5,45.5,13,29.4,17.3]],
[25,[30.5,25,36.3,24.4,41,21.9,39.8,18.1,31.7,15.8,38.6,13.8,52.3,12,70.7,11.5,90,11.6,90,25]],
[27,[39.8,25,45.5,21.2,45.5,18.6,36.3,16.4,39.7,14.9,57,12.4,90,12.2,90,25]],
[28,[42,25,47.8,21.2,45.5,17.6,39.8,16.1,58,14,65,13.5,90,13.2,90,25]],
[29,[49.5,25,56,17.3,59.2,15.8,70.7,14.7,90,14.7,90,25]],
[30,[67.3,25,68.5,23.5,70.7,19.2,76.5,18.1,90,17.6,90,25]]];
const e_cores=[[-30.3,25,-35,23.2,-39,21.8,-38.3,18.9,-37,17.6,-33.7,15.8,-33,13,-29,12.3,-12,12.4,-9.6,12.1,-3.9,11.5,1.8,10.8,8.7,11.4,16.8,11.8,24.8,10.9,31.7,9.7,39.8,10.1,45.5,9.5,52.3,9.4,58,8.8,64.4,8,90,8,90,11.1,59.2,11.2,47.8,12,39.8,13.4,32.9,15,31.2,16.1,31.7,17.5,34.6,17.8,37.4,18.9,38.6,21.2,37.4,22.2,34.6,23.6,30.5,24.4,28.2,25]];
const e_fronts=[[-33,13,-29,12.3,-12,12.4,-9.6,12.1,-3.9,11.5,1.8,10.8,8.7,11.4,16.8,11.8,24.8,10.9,31.7,9.7,39.8,10.1,45.5,9.5,52.3,9.4,58,8.8,64.4,8,90,8]];
const e_nested=[
[11,[-33,13.5,-29,13,-12,12.9,-8,12.6,-3,12.2,1.8,11.7,7,12,14,12.5,22,12,30,11,40,10.8,52,10,60,9.3,70,8.5,90,8.5,90,10.9,59,11,47,11.7,38.5,13.2,31.8,15,30.4,16.1,30.7,17.5,33.6,17.8,36.4,18.9,37.6,21.2,36.4,22.2,33.6,23.6,29.5,24.4,27.2,25,-29.3,25,-34,23.2,-38,21.8,-37.3,18.9,-36,17.6,-32.7,15.8]],
[10,[-32,14,-24,13.6,-12,13.6,-3,12.9,1.8,12.4,7,12.7,14,13,22,12.9,30,11.6,40,11.1,52,10.7,65,9.8,90,9.4,90,10.8,59,10.9,47,11.5,38,13,30.8,15,29.5,16.1,29.7,17.5,32.5,17.8,35.4,18.9,36.6,21.2,35.4,22.2,32.6,23.6,28.5,24.4,26.2,25,-28.3,25,-33,23.2,-37,21.8,-36.3,18.9,-35,17.6,-31.7,15.8]],
[9,[-31,15,-20,14.4,-10,14.2,2,13.9,10,14.1,18,13.8,25,13,35,11.7,48,11.2,58,10.7,65,10.2,90,10,90,10.8,59,10.9,47,11.5,37,13,29.8,15,28.5,16.1,28.7,17.5,31.5,17.8,34.4,18.9,35.6,21.2,34.4,22.2,31.6,23.6,27.5,24.4,25.2,25,-27.3,25,-32,23.2,-36,21.8,-35.3,18.9,-34,17.6,-30.7,15.8]],
[7,[-30,17,-28,15.5,-20,15.1,-9,15,2,14.9,13,15,20,14.6,30,13,38,12.3,48,11.8,60,11.3,90,10.9,60,11,47,11.5,36,13,29,15,30,17.3,33,18.9,34.5,21.2,33.4,22.2,30.6,23.6,26.5,24.4,24.2,25,-26.3,25,-31,23.2,-35,21.8,-34.3,18.9,-33,17.6]],
[7,[-29.5,25,-34.2,23.2,-38.2,21.8,-37.5,18.9,-36.2,17.6,-32.8,15.8,-28,15.6,25,15.7,30.2,15.9,30.3,17.5,33.8,17.8,36.6,18.9,37.8,21.2,36.6,22.2,33.8,23.6,29.7,24.4,27.4,25]],
[6,[-28.5,25,-33.2,23.2,-37,21.8,-36.3,18.9,-35,17.6,-31.5,16.5,-25,16,-15,15.6,1,15.6,15,15.6,22,15.5,28,16.5,30,17.6,32.8,18,35.4,18.9,36.6,21.2,35.4,22.2,32.8,23.6,28.7,24.4,26.4,25]],
[5,[-27.5,25,-32.2,23.2,-36,21.8,-35.3,18.9,-34,17.8,-28,17.6,-20,17.2,-5,17,10,17.3,16,17.2,22,17.5,27,17.8,31,18.2,34.3,19,35.5,21.2,34.3,22.2,31.8,23.6,27.7,24.4,25.4,25]],
[4,[-26,25,-30,23.2,-33.5,21.8,-33.5,19,-25,18.6,-10,18.3,-1,18.4,7,18.7,22,18.6,30,19.4,33.5,21,32,22.2,30,23.6,25.8,24.4,23,25]],
[3,[-24,25,-28,23.2,-31.5,21.8,-31.5,20.3,-25,19.6,-10,19.5,4,19.6,20,19.6,29,20.6,31,22,28,23.6,24,24.4,21,25]],
[2,[-13.7,25,-22.8,21.9,-21,21,-16.5,20.6,-5,20.5,.7,21.5,3,24.1,3,25]],
[2,[8.7,24,10,22.7,8,22.7]]];
const e_over=[
[15,[-48,11.3,-45,13.2,-36,13.1,-35,11.5,-41.8,11.1]],
[12,[-46.8,11.5,-44,12.9,-36.6,12.9,-35.8,11.7,-43,11.4]]];
const e_lines=[
[-90,15,-67,14.8,-55.6,15.3,-44,16.9,-33.7,18.7,-25.7,19.5,-14.2,20.1,13.3,20,29.4,19.4,38.6,18.3,47.8,16.1,58,14.7,70.7,14.1,90,14],
[-90,13,-73,13,-58,13.2,-44,14.6,-35,16.6,-25.7,18.3,-14.2,18.8,7.6,18.7,22.5,18.6,31.7,17.5,37.4,16,45.5,13.3,59.2,12.2,90,12],
[-90,10.2,-61.3,10.2,-50,10.7,-36,11.5,-29,13,-23.4,15.5,-16.5,16.3,13.3,16.2,20.2,15.5,27,12.9,35,11.2,47.8,10,70.7,9.4,90,9.1],
[-90,9.3,-76,9.4,-57.6,9.2,-46.4,9.9,-32.6,10.3,-29,11.2,-24.6,13.3,-18.8,15,-9.6,15.5,8.7,15.4,19,14.9,24.8,13.2,30.5,10.4,42,8.8,53.5,8.1,90,7.9],
[-90,5.5,-85.4,5.7,-69.4,5.1,-55.6,3.9,-40.6,2.6,-35,2.5,-22.3,3.2,-16.5,5.4,-15.4,9.7,-12,12,-7.3,12.7,.7,12.9,7,13.2,11.6,12.6,14,10.4,14,5.8,19,3.1,29.4,1]];
const e_thick=[-90,11.6,-78.5,11.6,-63.6,11.3,-55.6,11.4,-40.6,12.4,-35,13.3,-30.3,14.9,-25.7,16.3,-18.8,16.9,-7.3,17.2,13.3,17.1,20.2,16.8,26,15.5,32.9,14,42,12.6,52.3,11.4,62.6,10.8,90,10.8];
const e_light=[-90,11.4,-78.5,11.3,-61.3,10.9,-55.6,11,-40.6,12,-35,12.9,-30.3,14.3,-25.7,16,-18.8,16.3,1.8,16.6,20.2,16.4,26,15,32.9,13.3,42,11.8,52.3,10.8,62.6,10.4,90,10.4];
const e_dots=[-45,12.7,-45,10.8,0,10.8,45,12.7,45,10.8,60,10.8,45,9,60,9,75,7.4,90,7.4,-90,9,0,9,0,7.4,15,4.7,15,3.6,0,3.6,0,2.6,-15,2.6,0,1.8,-90,2.6,-90,1.8];

/* ---------- panel (f) WACCM ---------- */
const f_under=[
[21,[-90,1,-33,1,-27,6.6,-27,10.4,-90,12]],
[22,[-90,3.8,-69.4,3.6,-59,4,-54.4,5.1,-50,6.5,-44,7.4,-32.6,8.3,-27.4,10.4,-27,12,-90,12]],
[23,[-90,8,-61.3,7.5,-55.6,7.8,-44,8.9,-33,9.7,-29,11.2,-29,12,-90,12]],
[19,[-27,12,-22,9.7,-22,6.6,-27,3.5,-31,1,-22,1,-15,5,-15,9.7,-15,12]],
[18,[-25,12,-21,10,-19,7,-17,5,-20,3,-24,1,-14,1,-12,3,-12,5,-10,7.5,-10,8.5,-15,10,-19,11]],
[17,[-21,10,-.5,7.7,13.3,9.8,27,10,36,9,50,7,90,7,90,1,-16.5,1]],
[18,[20,10.3,33,8.9,38,6.6,36.3,5,29.4,4.4,20,4.6,11,6.2,8.7,7.4,13.3,9.7]],
[19,[23,7.4,26,8.1,30.5,8,34.6,7.1,33.4,6.1,26,5.8,23,6.6]],
[21,[19.7,8.7,20.8,8.3,19,8,18,8.4]],
[15,[-22,11,-21,10.3,-10,9.5,-2,8,1.8,7.8,6,8.7,13,10,20,11,25,10,30,9.3,36,8,45,6.4,52,5.9,60,5.2,68,4.5,76,4,90,4.5,90,6,60,8,40,11]],
[15,[-14,1,-14,2.8,-6.2,6.6,.7,7,5.3,6.3,8.7,5,15.6,4.6,20,3.7,33,3.1,47.8,3.5,47.8,3,35,1.6,24,1]],
[18,[56,3.8,73,4,76.5,5.2,80,3.8,90,4.3,90,1,64,1,64,1.9,58,3]],
[14,[-9.6,10.6,-5.6,9.5,1.8,8.9,5.3,9.5,11,10.6]],
[13,[-2.2,9.8,.7,10.4,4,9.7,1.8,9,-1.4,9.4]],
[14,[5.9,5.7,6.9,5,5.9,4.2,4.9,5]],
[14,[-6.4,5.4,-5.6,5,-6.4,4.6,-7.2,5]],
[14,[-8,4.2,-7.2,3.5,-8,2.9,-8.8,3.5]],
[14,[-11.5,3,-10.8,2.5,-11.5,1.9,-12.3,2.5]],
[14,[11,4,14,3.8,12,3]],
[19,[8.7,4.2,9.7,3.6,8.7,2.8,7.7,3.6]],
[21,[-9.5,3,-8.5,2,-9.5,1,-10.5,2]],
[19,[17,2.8,20.5,1,16,1]],
[24,[18,2.5,19.5,1,17,1]],
[15,[-90,3.8,-88,3.8,-84.8,1.7,-84.8,1,-90,1]]];
const f_stack=[
[24,[-90,25,-25.7,25,-28,17.3,-27,15,-28,13,-37,11.2,-46.4,10.3,-67,9.6,-90,9.5]],
[25,[-90,25,-29,25,-35,20.4,-30.3,17.6,-30.3,15.5,-33.7,12.4,-40.6,11.8,-61.3,10.7,-90,10.4]],
[27,[-90,25,-40.6,25,-44,21,-39.5,16.6,-40.6,15.5,-51,13,-62.4,12.1,-90,11.4]],
[28,[-67,25,-55.6,21.2,-51,15.3,-54.4,14.3,-63.6,12.5,-90,12.4,-90,25]],
[29,[-79.7,25,-68,21.5,-61.3,18.3,-60.4,16.4,-63.6,15,-76,14.4,-90,14.4,-90,25]],
[24,[35,25,90,25,90,11.2,53,11,44,11.5,36,12.5,26,15,30,17.3]],
[25,[42.6,25,38.6,22.7,39.7,20.6,36.3,18.3,30.5,15.8,36.3,14.3,46.6,12.7,59.2,11.8,90,11.8,90,25]],
[26,[44.3,25,41,22.5,43.2,20.4,38.6,18.3,34,16.6,42,14.9,47.8,13.3,59.2,12.7,90,12.5,90,25]],
[27,[46,25,41.5,22.5,46,20.4,41.5,18.3,37,16.6,50,14.8,58,14,90,14,90,25]],
[28,[66,25,66,22.2,70.7,21.2,79,20.8,90,20.7,90,25]]];
const f_cores=[[-25,25,-27.4,24.2,-29,23.8,-32.8,20.9,-28,18.3,-25.7,16.4,-25,15.5,-26.9,13.7,-25.7,12.1,-22.3,11.2,-20.5,10.3,-19.4,10.8,-12,11.5,11.6,11.7,13.3,10.3,16,11,20.8,11.2,28.2,9.5,36.3,8.1,44.3,6.6,52.3,6.3,61.5,5.7,66,4.4,68.4,5.7,73.6,4.2,76,5.5,85.6,5.5,90,5.8,90,11.1,52.3,11.1,44.3,11.8,36.3,12.9,28.2,13.5,26,15.5,28.2,16.7,32.9,17.2,35,18.1,38,18.9,38.6,20.4,34,21.9,32.8,23.5,35.7,25]];
const f_fronts=[[-25.7,12.1,-22.3,11.2,-20.5,10.3,-19.4,10.8,-12,11.5],[11.6,11.7,13.3,10.3,16,11,20.8,11.2,28.2,9.5,36.3,8.1,44.3,6.6,52.3,6.3,61.5,5.7,66,4.4,68.4,5.7,73.6,4.2,76,5.5,85.6,5.5,90,5.8]];
const f_nested=[
[11,[-24,13,-15,12.6,1,12.6,13,12.5,20,12.3,28,10.5,36,9,45,7.5,60,6.8,90,6.6,90,10.9,52,10.9,44,11.6,36,12.8,27.5,13.5,25,15.5,27,16.7,32,17.2,34,18.1,37,18.9,37.6,20.4,33,21.9,31.8,23.5,34.7,25,-24,25,-26.4,24.2,-28,23.8,-31.8,20.9,-27,18.3,-24.7,16.4,-24,15.5,-25.9,13.7]],
[10,[-23,14,-12,13.3,2,13.2,12,13.3,21,13.2,28,11.5,36,10.1,45,8.6,60,7.6,90,7.3,90,10.8,52,10.8,44,11.5,35,12.8,27,13.5,24,15.5,26,16.7,31,17.2,33,18.1,36,18.9,36.6,20.4,32,21.9,30.8,23.5,33.7,25,-23,25,-25.4,24.2,-27,23.8,-30.8,20.9,-26,18.3,-23.7,16.4,-23,15.5]],
[9,[-22,14.9,-14,14,-5,14,3,14.3,12,14.1,20,14,26,13,33,11.5,45,10,60,9,90,8.5,90,10.8,52,10.8,44,11.4,34,12.7,26,13.7,23,15.5,25,16.7,30,17.2,32,18.1,35,18.9,35.6,20.4,31,21.9,29.8,23.5,32.7,25,-22,25,-24.4,24.2,-26,23.8,-29.8,20.9,-25,18.3,-22.7,16.4]],
[7,[-24,25,-26.4,24.2,-28,23.8,-31.8,20.9,-27,18.3,-20,17.9,-6,17.5,5,17.3,17,17.5,22,17,27,17.2,31.9,17.3,34,18.2,37,19,37.6,20.4,33,21.9,31.8,23.5,34.7,25]],
[6,[-23,25,-25.4,24.2,-27,23.8,-30.5,20.9,-26,18.8,-22,19,-14,18.8,1,18.3,13,18.7,22,18.3,28,18,33,18.6,36,19.1,36.6,20.4,32,21.9,30.8,23.5,33.7,25]],
[6,[63.8,9.7,90,10.3,90,8.5,76,9]],
[5,[-21.5,25,-24,24.2,-25,23.8,-28.8,20.9,-25,19.6,-20,20,-12,19.4,1,18.8,13,19.2,22,19,28,19,34,19.5,35,20.4,30.5,21.9,29.3,23.5,31,25]],
[4,[-25,21,-21,23.3,-12,24.2,-6,23.5,.7,22.7,5.3,23.3,11,24.5,22.5,24.5,29.4,21.9,31.7,20.4,28.2,19.2,1.8,18.4,-25.7,20.4]],
[7,[-6.2,25,1.8,23,8.7,25]],
[10,[-1,25,1.8,23.6,5,25]],
[12,[0,25,1.8,24,3.5,25]],
[3,[-9,21.1,-1.6,21.2,4.7,20.9,-1.6,20.5,-7.3,20.8]],
[3,[16.2,20.9,20.8,21.1,24.2,20.9,22,20.6,18.5,20.7]]];
const f_over=[];
const f_lines=[
[-90,15.4,-72.8,15.3,-62.4,15.7,-53.3,16.7,-41.8,17.8,-32.6,18.9,-22.3,19.9,-9.6,20.5,1.8,20.5,19,20.1,29.4,19.3,36.3,18.3,44.3,16.7,53.5,15.2,62.7,14.3,90,14],
[-90,13,-67,12.9,-55.6,13.5,-47.5,14,-39.5,15.6,-32.6,17.5,-24.6,18.6,-12,19.2,-.5,19.2,22.5,18.6,30.5,17.3,37.4,15.5,44.3,13,53.5,12,76.5,11.3,90,11.1],
[-90,9.6,-66,9.5,-55.6,10.3,-46.4,10.7,-35,11.2,-30.3,12.1,-28,14,-22.3,15.8,-15.4,16.3,7.6,16.4,18,16,24.8,14.9,30.5,12.4,39.7,10.3,59.2,8.8,90,8.2],
[-90,8.4,-66,8.2,-55.6,8.7,-47.5,9.5,-36,9.7,-30.3,10.4,-25.7,12.7,-20,14.1,-9.6,14.9,-1,15.3,8.7,14.9,18,14.3,23.7,12.7,31.7,10.3,39.7,8.8,50,7.9,70,7,90,6.7],
[-33,1,-25.7,2.8,-21.7,5.8,-21,9.2,-14.2,11.7,-5,12.1,6.4,12.2,12.7,11.8,16.8,9.7,19,5.1,22.5,3.1,24.8,1]];
const f_thick=[-90,10.9,-67,10.7,-60,10.9,-51,11.4,-40.6,12,-35,13,-30.3,14.6,-25.7,16,-18.8,16.6,-7.3,17,7.6,17,19,16.6,24.8,15.7,30.5,14.3,36.3,12.9,44.3,11.7,53.5,10.9,70.7,10.3,90,10.1];
const f_light=[-90,10.7,-67,10.6,-60,10.7,-51,11.2,-40.6,11.8,-35,12.8,-30.3,14.3,-25.7,15.8,-18.8,16.3,-7.3,16.7,7.6,16.7,19,16.2,24.8,15.2,30.5,13.8,36.3,12.4,44.3,11.1,53.5,10.3,70.7,9.7,90,9.5];
const f_dots=[-34,24.8,-22.6,24.8,-11.4,24.8,0,24.8,11.4,24.8,22.6,24.8,34,24.8,45.4,24.8,-34,22.2,-22.6,22.2,0,22.2,22.6,22.2,34,22.2,-34,19.7,34,19.7,45.4,19.7,34,17.4,-22.6,15.2,22.6,15.2,22.6,12.9,-22.6,10.6,-11.4,10.6,11.4,10.6,22.6,10.6,34,10.6,45.4,10.6,68,10.6,79.4,10.6,22.6,8.3,34,8.3,0,6,34,6,45.4,6,56.7,6,68,6,79.4,6,11.4,3.8,22.6,3.8,34,3.8,45.4,3.8,56.7,3.8,68,3.8,79.4,3.8,-11.4,1.9,11.4,1.9,22.6,1.9,34,1.9,45.4,1.9,56.7,1.9,68,1.9,79.4,1.9,-90,1.9];

/* ---------- rendering ---------- */
const NS='http://www.w3.org/2000/svg';
const fig=document.getElementById('fig');
function mk(tag,attrs,parent){const el=document.createElementNS(NS,tag);for(const k in attrs)el.setAttribute(k,attrs[k]);parent.appendChild(el);return el;}
const haloWidths=[[23,20],[22,18],[21,16],[20,14.5],[19,13],[18,11.5],[17,9.8],[15,8.6],[14,3.6],[13,2.4],[12,1.2]];
const frontWidths=[[18,24],[17,19],[15,13],[14,8],[13,6],[12,4]];

/* left,top,w,h = axes box; refLeft,refTop = digitising origin of that panel's traced values */
function panel(id,left,top,w,h,refLeft,refTop,latMax,latTicks,layers){
  const xAxis=lat=>left+(lat+latMax)/(2*latMax)*w;
  const yAxis=z=>top+(25-z)/24*h;
  const markX=lat=>lat<=-latMax?left:(lat>=latMax?left+w:refLeft+(lat+latMax)/(2*latMax)*629);
  const markY=z=>z>=25?top:refTop+(25-z)*21.75;
  const toPts=a=>{const o=[];for(let i=0;i<a.length;i+=2)o.push(markX(a[i]).toFixed(1)+','+markY(a[i+1]).toFixed(1));return o.join(' ');};
  const smooth=a=>{const p=[];for(let i=0;i<a.length;i+=2)p.push([markX(a[i]),markY(a[i+1])]);let d='M'+p[0][0].toFixed(1)+' '+p[0][1].toFixed(1);
    for(let i=0;i<p.length-1;i++){const p0=p[Math.max(i-1,0)],p1=p[i],p2=p[i+1],p3=p[Math.min(i+2,p.length-1)];
      d+=' C'+(p1[0]+(p2[0]-p0[0])/6).toFixed(1)+' '+(p1[1]+(p2[1]-p0[1])/6).toFixed(1)+' '+(p2[0]-(p3[0]-p1[0])/6).toFixed(1)+' '+(p2[1]-(p3[1]-p1[1])/6).toFixed(1)+' '+p2[0].toFixed(1)+' '+p2[1].toFixed(1);}
    return d;};
  const g=mk('g',{},fig);
  
  
  const clip=mk('clipPath',{id:'clip-'+id},g);
  mk('rect',{x:left,y:top,width:w,height:h},clip);
  const plot=mk('g',{'clip-path':'url(#clip-'+id+')'},g);
  
  
  const base=mk('rect',{x:left,y:top,width:w,height:h,fill:bandColors[20]},plot);
  
  
  const band=(l,dashed)=>{const el=mk('polygon',{points:toPts(l[1]),fill:bandColors[l[0]]},plot);
    if(dashed){el.setAttribute('stroke','rgba(255,255,255,.22)');el.setAttribute('stroke-width','.8');el.setAttribute('stroke-dasharray','4 2');}
    
    };
  layers.under.forEach(l=>band(l,false));
  layers.stack.forEach(l=>band(l,true));
  layers.cores.forEach(c=>{
    haloWidths.forEach(hw=>{mk('polygon',{points:toPts(c),fill:'none',stroke:bandColors[hw[0]],'stroke-width':hw[1],'stroke-linejoin':'round'},plot);});
  });
  layers.fronts.forEach(f=>{
    frontWidths.forEach(fw=>{mk('polyline',{points:toPts(f),fill:'none',stroke:bandColors[fw[0]],'stroke-width':fw[1],'stroke-linejoin':'round'},plot);});
  });
  layers.cores.forEach(c=>{
    const el=mk('polygon',{points:toPts(c),fill:bandColors[11]},plot);
    
    
  });
  layers.nested.forEach(l=>band(l,true));
  layers.over.forEach(l=>band(l,false));
  layers.lines.forEach(a=>{
    const el=mk('path',{d:smooth(a),fill:'none',stroke:'#1c1c1c','stroke-width':1.1,'stroke-opacity':.75},plot);
    
    
  });
  const thick=mk('path',{d:smooth(layers.thick),fill:'none',stroke:'#666','stroke-width':7.5,'stroke-linejoin':'round'},plot);
  
  
  const light=mk('path',{d:smooth(layers.light),fill:'none',stroke:'#ccc','stroke-width':7,'stroke-linejoin':'round'},plot);
  
  
  for(let i=0;i<layers.dots.length;i+=2){
    const d=mk('circle',{cx:markX(layers.dots[i]),cy:markY(layers.dots[i+1]),r:3.4,fill:'#555','fill-opacity':.9},g);
    
    
  }
  const frame=mk('rect',{x:left,y:top,width:w,height:h,fill:'none',stroke:'#222','stroke-width':1.6},g);
  
  
  const tick=(x1,y1,x2,y2)=>{const t=mk('line',{x1:x1,y1:y1,x2:x2,y2:y2,stroke:'#333','stroke-width':1.3},g);
    
    };
  latTicks.forEach(v=>{const x=xAxis(v);tick(x,top+h,x,top+h-7);tick(x,top,x,top+7);
    const t=mk('text',{x:x-3,y:top+h+50,'font-size':38,'text-anchor':'middle'},g);t.textContent=v;
    
    });
  zTicks.forEach(v=>{const y=yAxis(v);tick(left,y,left+7,y);
    const t=mk('text',{x:left-22,y:y+13,'font-size':38,'text-anchor':'end'},g);t.textContent=v;
    
    });
  const pz=p=>16.1*Math.log10(1000/p);
  pLabels.forEach((v,i)=>{const y=yAxis(pz(v));tick(left+w,y,left+w-8,y);
    const t=mk('text',{x:left+w+14,y:y+12,'font-size':38},g);t.textContent=v;
    
    });
  pMinor.forEach(v=>{const y=yAxis(pz(v));tick(left+w,y,left+w-5,y);});
  const xl=mk('text',{x:left+w/2-3,y:top+h+99,'font-size':39,'text-anchor':'middle'},g);xl.textContent='Latitude';
  
  
  const zl=mk('text',{transform:'translate('+(left-81)+','+(top+268)+') rotate(-90)','font-size':39,'text-anchor':'middle'},g);zl.textContent='Z (km)';
  
  
  const pl=mk('text',{transform:'translate('+(left+w+133)+','+(top+264)+') rotate(-90)','font-size':39,'text-anchor':'middle'},g);pl.textContent='P (hPa)';
  
  
}

panel('a',129,76,628.3,521.3,129,76,90,latTicksFull,{under:a_under,stack:a_stack,cores:a_cores,fronts:a_fronts,nested:a_nested,over:a_over,lines:a_lines,thick:a_thick,light:a_light,dots:a_dots});
panel('b',1017.3,76,626,521.3,1020,76,88,latTicksTrim,{under:b_under,stack:b_stack,cores:b_cores,fronts:b_fronts,nested:b_nested,over:b_over,lines:b_lines,thick:b_thick,light:b_light,dots:b_dots});
panel('c',129,770.7,628.3,522,129,773,88,latTicksTrim,{under:c_under,stack:c_stack,cores:c_cores,fronts:c_fronts,nested:c_nested,over:c_over,lines:c_lines,thick:c_thick,light:c_light,dots:c_dots});
panel('d',1017.3,770.7,626,522,1020,773,90,latTicksFull,{under:d_under,stack:d_stack,cores:d_cores,fronts:d_fronts,nested:d_nested,over:d_over,lines:d_lines,thick:d_thick,light:d_light,dots:d_dots});
panel('e',129,1465.7,628.3,521.3,129,1470,90,latTicksFull,{under:e_under,stack:e_stack,cores:e_cores,fronts:e_fronts,nested:e_nested,over:e_over,lines:e_lines,thick:e_thick,light:e_light,dots:e_dots});
panel('f',1017.3,1465.7,626,521.3,1020,1470,90,latTicksFull,{under:f_under,stack:f_stack,cores:f_cores,fronts:f_fronts,nested:f_nested,over:f_over,lines:f_lines,thick:f_thick,light:f_light,dots:f_dots});

/* ---------- colour bar ---------- */
const cbLeft=1800,cbWidth=32,cbTop=76,cbHeight=1911;
const cb=mk('g',{},fig);


bandColors.forEach((c,i)=>{
  const stepH=cbHeight/bandColors.length;
  const r=mk('rect',{x:cbLeft,y:cbTop+cbHeight-(i+1)*stepH,width:cbWidth,height:stepH+.6,fill:c},cb);
  
  
});
const cbFrame=mk('rect',{x:cbLeft,y:cbTop,width:cbWidth,height:cbHeight,fill:'none',stroke:'#333','stroke-width':1.6},cb);


colorbarLabels.forEach((s,i)=>{
  const y=cbTop+i*cbHeight/(colorbarLabels.length-1);
  if(i>0&&i<colorbarLabels.length-1){mk('line',{x1:cbLeft+12,x2:cbLeft+cbWidth,y1:y,y2:y,stroke:'#333','stroke-width':1.2},cb);}
  const t=mk('text',{x:1847,y:y+13,'font-size':38.5},cb);t.textContent=s;
  
  
});
</script>
</body></html>
